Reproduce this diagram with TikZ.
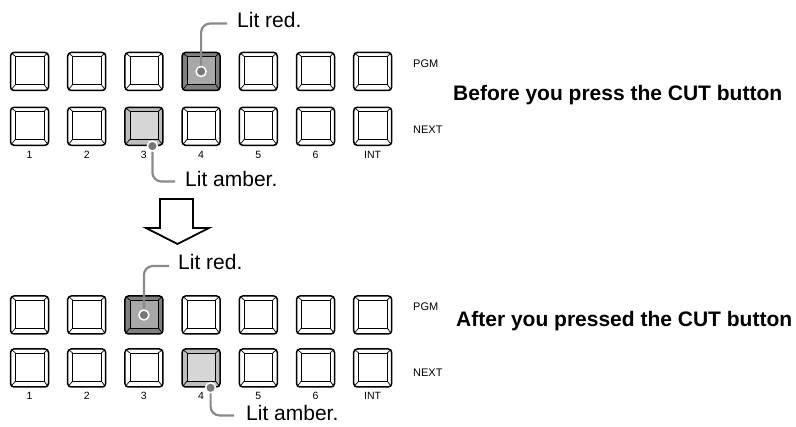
\documentclass[tikz,border=0pt]{standalone}
\usepackage{fontspec}
\setmainfont{Liberation Sans}
\usepackage{tikz}
\usetikzlibrary{positioning, calc}
\definecolor{cRedRing}{RGB}{128,128,128}
\definecolor{cRedFace}{RGB}{168,168,168}
\definecolor{cAmbRing}{RGB}{190,190,190}
\definecolor{cAmbFace}{RGB}{214,214,214}
\definecolor{cLeader}{RGB}{138,138,138}
\definecolor{cDot}{RGB}{120,120,120}
\tikzset{
	btn face/.store in=\btnface, btn face=white,
	btn/.style={rectangle, rounded corners=3.5pt, minimum size=38pt, inner sep=0pt, draw=black, line width=1.5pt, fill=white, btn face=white,
		path picture={
			\coordinate (ppsw) at (path picture bounding box.south west);
			\coordinate (ppse) at (path picture bounding box.south east);
			\coordinate (ppnw) at (path picture bounding box.north west);
			\coordinate (ppne) at (path picture bounding box.north east);
			\filldraw[fill=\btnface, draw=black, line width=0.7pt, sharp corners] ($(ppsw)+(5pt,6pt)$) rectangle ($(ppne)+(-4.5pt,-4pt)$);
			\draw[line width=0.7pt, sharp corners] (ppsw) -- ++(5pt,6pt) (ppse) -- ++(-4.5pt,6pt) (ppnw) -- ++(5pt,-4pt) (ppne) -- ++(-4.5pt,-4pt);
		}},
	redlit/.style={btn, fill=cRedRing, btn face=cRedFace},
	amblit/.style={btn, fill=cAmbRing, btn face=cAmbFace},
	litdot/.style={circle, fill=cDot, draw=white, line width=1.5pt, minimum size=10pt, inner sep=0pt},
	leader/.style={draw=cLeader, line width=2.2pt, rounded corners=9pt},
	callout/.style={inner sep=0pt, font=\fontsize{21}{25}\selectfont},
	title/.style={inner sep=0pt, font=\fontsize{21}{25}\selectfont\bfseries},
	numlbl/.style={inner sep=0pt, font=\fontsize{10.5}{12}\selectfont},
	rowlbl/.style={inner sep=0pt, font=\fontsize{11}{13}\selectfont},
}

\begin{document}
\begin{tikzpicture}[x=1pt, y=-1pt]
	\useasboundingbox (0,0) rectangle (796,427);
	% before the CUT
	\foreach \i/\lab/\ps/\ns in {1/1/btn/btn, 2/2/btn/btn, 3/3/btn/amblit, 4/4/redlit/btn, 5/5/btn/btn, 6/6/btn/btn, 7/INT/btn/btn} {
		\node[\ps] (apgm\i) at ({29.5+57.2*(\i-1)}, 71.5) {};
		\node[\ns] (anext\i) at ({29.5+57.2*(\i-1)}, 126.3) {};
		\node[numlbl, anchor=base] (anum\i) at ($(anext\i.south)+(0,-12pt)$) {\lab};
	}
	\node[rowlbl, anchor=base west] (apgm) at (413,68) {PGM};
	\node[rowlbl, anchor=base west] (anext) at (413,134) {NEXT};
	\node[title, anchor=base west] (before) at (453,101) {Before you press the CUT button};
	\node[callout, anchor=base west] (redtxt1) at (237,28) {Lit red.};
	\node[callout, anchor=base west] (ambtxt1) at (185,187) {Lit amber.};
	\node[litdot] (rdot1) at (apgm4.center) {};
	\node[litdot] (adot1) at ($(anext3.south)+(8.5pt,0)$) {};
	\draw[leader] (rdot1.north) |- ($(redtxt1.base west)+(-10pt,4.5pt)$);
	\draw[leader] (adot1.south) |- ($(ambtxt1.base west)+(-10pt,5.5pt)$);

	% hollow arrow
	\draw[line width=1.8pt, line join=miter] (160,199) -- (193,199) -- (193,228) -- (209,228) -- (177.5,244) -- (146,228) -- (160,228) -- cycle;

	% after the CUT
	\foreach \i/\lab/\ps/\ns in {1/1/btn/btn, 2/2/btn/btn, 3/3/redlit/btn, 4/4/btn/amblit, 5/5/btn/btn, 6/6/btn/btn, 7/INT/btn/btn} {
		\node[\ps] (bpgm\i) at ({29.5+57.2*(\i-1)}, 315) {};
		\node[\ns] (bnext\i) at ({29.5+57.2*(\i-1)}, 368) {};
		\node[numlbl, anchor=base] (bnum\i) at ($(bnext\i.south)+(0,-12pt)$) {\lab};
	}
	\node[rowlbl, anchor=base west] (bpgm) at (413,311) {PGM};
	\node[rowlbl, anchor=base west] (bnext) at (413,377) {NEXT};
	\node[title, anchor=base west] (after) at (456,327) {After you pressed the CUT button};
	\node[callout, anchor=base west] (redtxt2) at (178,270) {Lit red.};
	\node[callout, anchor=base west] (ambtxt2) at (246,421) {Lit amber.};
	\node[litdot] (rdot2) at (bpgm3.center) {};
	\node[litdot] (adot2) at ($(bnext4.south)+(9.5pt,0)$) {};
	\draw[leader] (rdot2.north) |- ($(redtxt2.base west)+(-9pt,4pt)$);
	\draw[leader] (adot2.south) |- ($(ambtxt2.base west)+(-12pt,5.5pt)$);
\end{tikzpicture}
\end{document}
